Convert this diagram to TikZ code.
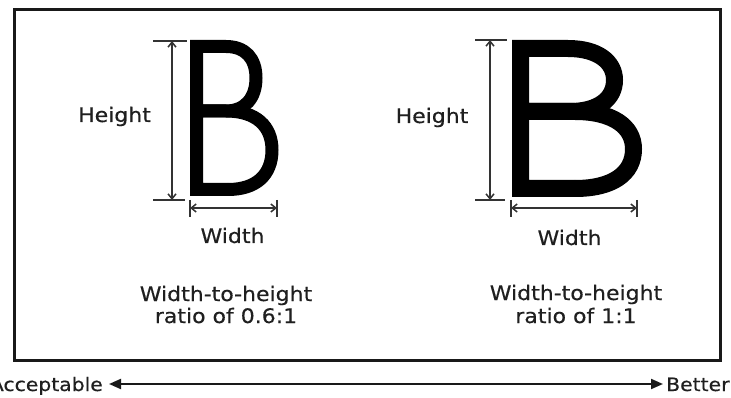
\documentclass[tikz,border=0pt]{standalone}
\usepackage{fontspec}
\setmainfont{DejaVu Sans}[FakeStretch=1.1,FakeBold=0.5]
\usetikzlibrary{arrows.meta}
\begin{document}
\begin{tikzpicture}[x=1pt,y=-1pt,
  lbl/.style={inner sep=0pt,anchor=base,text=black!88,font=\fontsize{20}{24}\selectfont},
  scalelbl/.style={lbl,font=\fontsize{18.5}{22}\selectfont},
  dimline/.style={line width=1.5pt,draw=black!80},
  dimarrow/.style={dimline,{Straight Barb[length=5pt,width=8pt]}-{Straight Barb[length=5pt,width=8pt]}},
  letterB/.style={draw=black,line join=miter,miter limit=10},
  scalearrow/.style={line width=2pt,draw=black!90,{Triangle[length=12pt,width=10pt]}-{Triangle[length=12pt,width=10pt]}}]
\useasboundingbox (0,0) rectangle (731,398);
% frame
\draw[line width=3pt,draw=black!90] (14,9.5) rectangle (720.5,360.5);

% ---------- left B (0.6:1) ----------
\draw[letterB,line width=13pt]
  (228,189.5) -- (196.5,189.5) -- (196.5,46.5) -- (226,46.5)
  .. controls (245,46.5) and (256,58) .. (256,78)
  .. controls (256,98) and (245,111) .. (226,111) -- (196.5,111);
\draw[letterB,line width=13pt]
  (196.5,111) -- (226,111) .. controls (256,111) and (272,126) .. (272,150)
  .. controls (272,175) and (256,189.5) .. (228,189.5);
% height dimension
\coordinate (lht1) at (153,41);  \coordinate (lht2) at (187,41);
\coordinate (lhb1) at (153,200); \coordinate (lhb2) at (185,200);
\coordinate (lha1) at (172,41);  \coordinate (lha2) at (172,200);
\draw[dimline] (lht1) -- (lht2);
\draw[dimline] (lhb1) -- (lhb2);
\draw[dimarrow] (lha1) -- (lha2);
% width dimension
\coordinate (lwl1) at (190,200); \coordinate (lwl2) at (190,217);
\coordinate (lwr1) at (277,200); \coordinate (lwr2) at (277,217);
\coordinate (lwa1) at (190,208); \coordinate (lwa2) at (277,208);
\draw[dimline] (lwl1) -- (lwl2);
\draw[dimline] (lwr1) -- (lwr2);
\draw[dimarrow] (lwa1) -- (lwa2);
\node[lbl] (lheight) at (114.5,122) {Height};
\node[lbl] (lwidth) at (232.5,243) {Width};
\node[lbl] (lratio1) at (226,301) {Width-to-height};
\node[lbl] (lratio2) at (226,323) {ratio of 0.6:1};

% ---------- right B (1:1) ----------
\draw[letterB,line width=17pt]
  (575,188.5) -- (520.5,188.5) -- (520.5,48.5) -- (568,48.5)
  .. controls (598,48.5) and (614.5,62) .. (614.5,80)
  .. controls (614.5,99) and (598,111.5) .. (570,111.5) -- (520.5,111.5);
\draw[letterB,line width=17pt]
  (520.5,111.5) -- (575,111.5) .. controls (612,111.5) and (633.5,126) .. (633.5,149)
  .. controls (633.5,174) and (612,188.5) .. (575,188.5);
% height dimension
\coordinate (rht1) at (475,40);  \coordinate (rht2) at (507,40);
\coordinate (rhb1) at (475,200); \coordinate (rhb2) at (505,200);
\coordinate (rha1) at (490,40);  \coordinate (rha2) at (490,200);
\draw[dimline] (rht1) -- (rht2);
\draw[dimline] (rhb1) -- (rhb2);
\draw[dimarrow] (rha1) -- (rha2);
% width dimension
\coordinate (rwl1) at (511,200); \coordinate (rwl2) at (511,217);
\coordinate (rwr1) at (637,200); \coordinate (rwr2) at (637,217);
\coordinate (rwa1) at (511,208); \coordinate (rwa2) at (637,208);
\draw[dimline] (rwl1) -- (rwl2);
\draw[dimline] (rwr1) -- (rwr2);
\draw[dimarrow] (rwa1) -- (rwa2);
\node[lbl] (rheight) at (432,123) {Height};
\node[lbl] (rwidth) at (569.5,245) {Width};
\node[lbl] (rratio1) at (576,300) {Width-to-height};
\node[lbl] (rratio2) at (576,323) {ratio of 1:1};

% ---------- scale ----------
\node[scalelbl,anchor=base east] (acc) at (103,391) {Acceptable};
\node[scalelbl,anchor=base west] (bet) at (666,391) {Better};
\coordinate (sa) at (109,384);
\coordinate (sb) at (663,384);
\draw[scalearrow] (sa) -- (sb);
\end{tikzpicture}
\end{document}
